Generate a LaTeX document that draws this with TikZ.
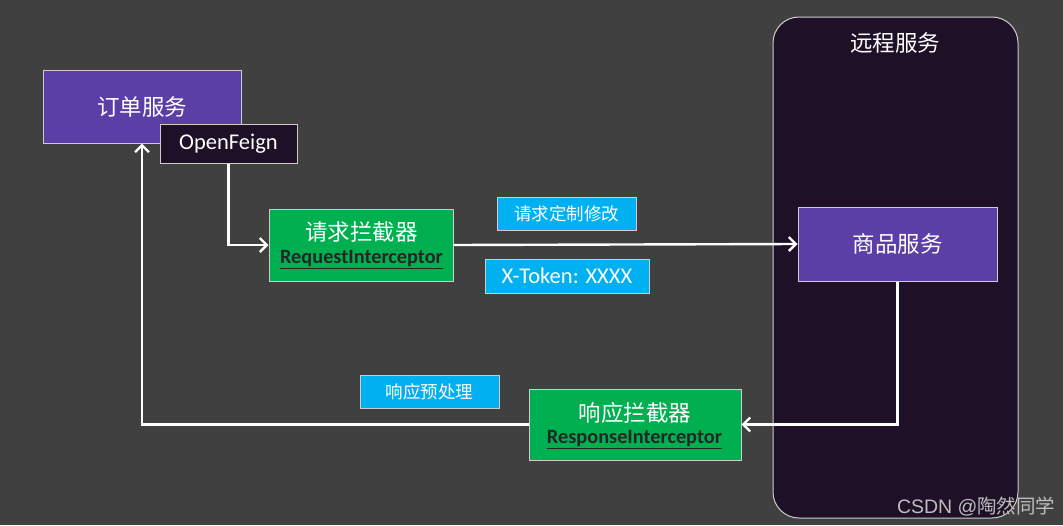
\documentclass[tikz,border=0pt]{standalone}
\usepackage{fontspec}
\setmainfont{Carlito}
\newfontfamily\cjk{Noto Sans CJK SC}
\newfontfamily\marksans{Liberation Sans}
\usetikzlibrary{arrows.meta}
\definecolor{bgdark}{RGB}{64,64,64}
\definecolor{remotefill}{RGB}{30,16,38}
\definecolor{svcpurple}{RGB}{92,63,166}
\definecolor{icgreen}{RGB}{0,176,80}
\definecolor{tagblue}{RGB}{0,176,240}
\definecolor{edgegrey}{RGB}{205,205,205}
\definecolor{marktext}{RGB}{190,190,190}
\tikzset{
  box/.style={draw=edgegrey, line width=1pt, inner sep=0pt, text=white, align=center},
  service/.style={box, fill=svcpurple, font=\cjk\fontsize{22.5}{26}\selectfont},
  icbox/.style={box, fill=icgreen},
  tag/.style={box, fill=tagblue, font=\cjk\fontsize{17.5}{20}\selectfont},
  flow/.style={draw=white, line width=2.4pt, -{Straight Barb[length=7pt,width=14pt,line width=2.4pt]}},
  iclabel/.style={font=\fontsize{20.3}{23}\selectfont\bfseries, text=black!85}
}
\begin{document}
\begin{tikzpicture}[x=1pt,y=-1pt]
  % canvas
  \fill[bgdark] (0,0) rectangle (1063,525);
  \useasboundingbox (0,0) rectangle (1063,525);

  % remote service container
  \node[draw=edgegrey, line width=1pt, fill=remotefill, rounded corners=26pt,
        minimum width=245pt, minimum height=501pt, inner sep=0pt]
        (remote) at (895.5,267.5) {};
  \node[text=white, font=\cjk\fontsize{22.5}{26}\selectfont] (remotetitle) at (895,43) {远程服务};

  % order service and its client
  \node[service, minimum width=198pt, minimum height=73pt] (order) at (142,106.5) {订单服务};
  \node[box, fill=remotefill, minimum width=137pt, minimum height=39pt,
        font=\fontsize{22.5}{26}\selectfont] (feign) at (228.5,143.5) {\raisebox{-2pt}{OpenFeign}};

  % request interceptor
  \node[icbox, minimum width=184pt, minimum height=72pt] (reqic) at (361,245) {};
  \node[text=white, font=\cjk\fontsize{22.5}{26}\selectfont] (reqtitle) at (361.5,232) {请求拦截器};
  \node[iclabel] (reqname) at (361.5,260) {\underline{RequestInterceptor}};

  % tags on the request path
  \node[tag, minimum width=139pt, minimum height=33pt] (tagmod) at (566.5,213.5) {请求定制修改};
  \node[tag, minimum width=164pt, minimum height=34pt,
        font=\fontsize{22.5}{26}\selectfont] (tagtoken) at (567,276) {\raisebox{-1.5pt}{X-Token: XXXX}};

  % product service
  \node[service, minimum width=199pt, minimum height=74pt] (product) at (897.5,244) {商品服务};

  % response side
  \node[tag, minimum width=139pt, minimum height=33pt] (tagpre) at (429.5,391.5) {响应预处理};
  \node[icbox, minimum width=212pt, minimum height=71pt] (respic) at (635,424.5) {};
  \node[text=white, font=\cjk\fontsize{22.5}{26}\selectfont] (resptitle) at (635,413) {响应拦截器};
  \node[iclabel] (respname) at (634.5,440) {\underline{ResponseInterceptor}};

  % call flow
  \draw[flow] (feign.south) |- (reqic.west);
  \draw[flow] (reqic.east) -- (product.west);
  \draw[flow] (product.south) |- (respic.east);
  \draw[flow] (respic.west) -| (order.south);

  % watermark
  \node[text=marktext, anchor=east, font=\fontsize{19.5}{22}\selectfont] (mark) at (1059,507)
        {\marksans CSDN @\cjk 陶然同学};
\end{tikzpicture}
\end{document}
